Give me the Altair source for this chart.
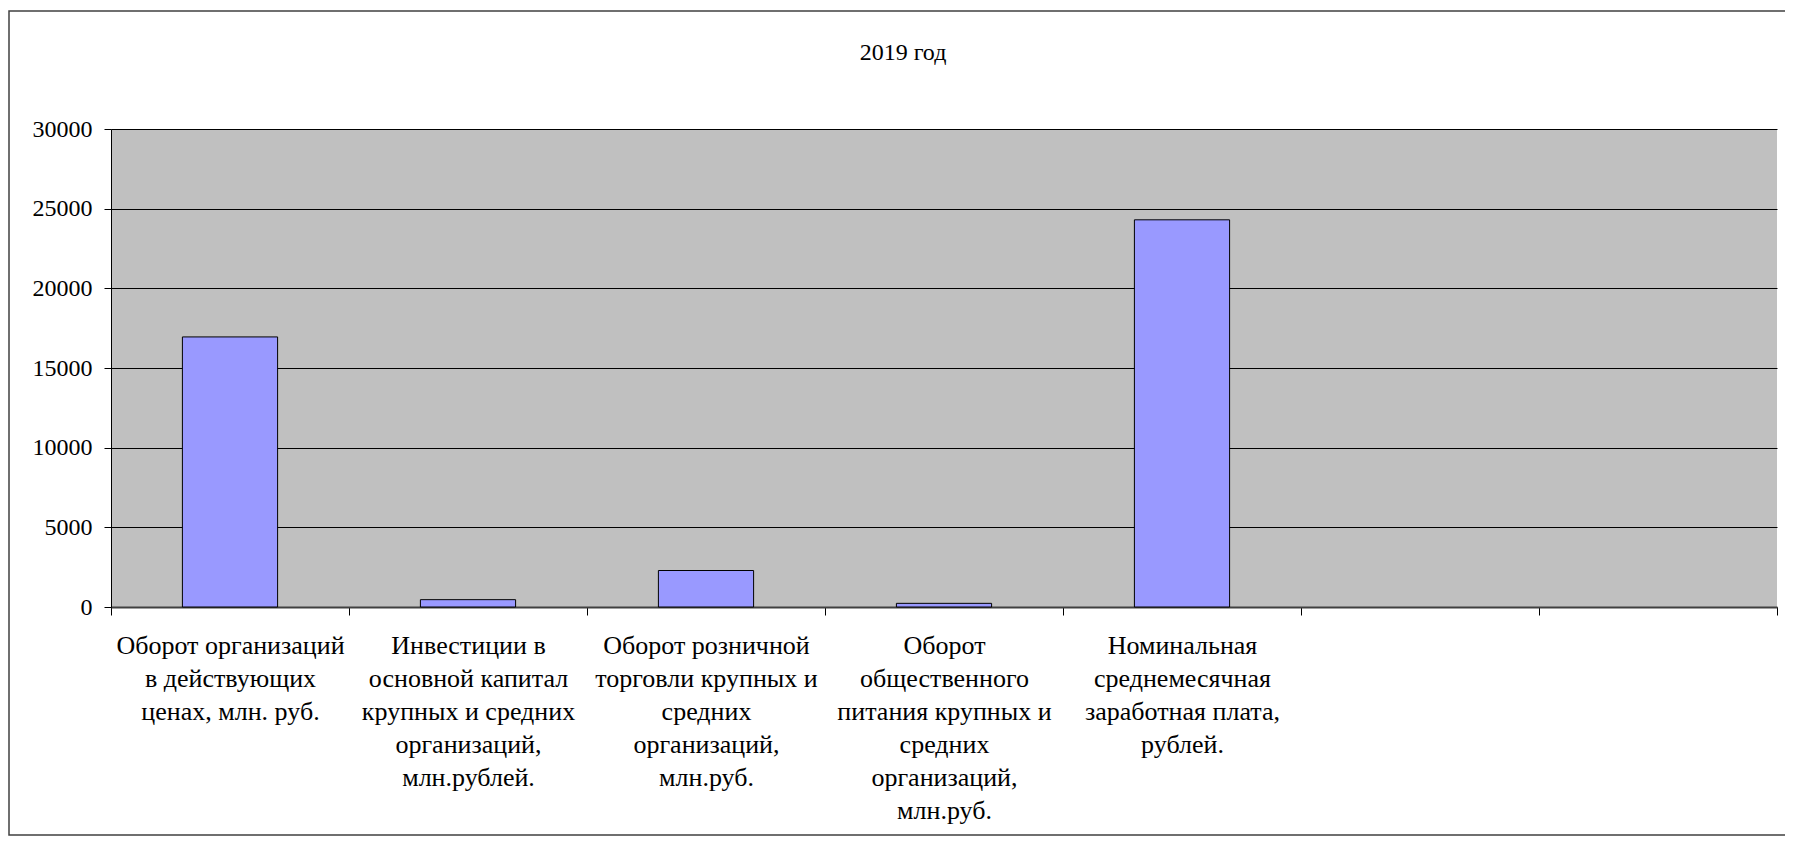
import altair as alt
import pandas as pd

# Category labels (line breaks marked with "|"); last two categories are empty in the original
categories = [
    "Оборот организаций|в действующих|ценах, млн. руб.",
    "Инвестиции в|основной капитал|крупных и средних|организаций,|млн.рублей.",
    "Оборот розничной|торговли крупных и|средних|организаций,|млн.руб.",
    "Оборот|общественного|питания крупных и|средних|организаций,|млн.руб.",
    "Номинальная|среднемесячная|заработная плата,|рублей.",
    " ",
    "  ",
]
values = [16950, 460, 2290, 230, 24300, None, None]
y_ticks = [0, 5000, 10000, 15000, 20000, 25000, 30000]

df = pd.DataFrame({"cat": categories, "value": values})

FONT = "Liberation Serif"
W, H = 1666, 478
PAD = {"left": 103, "top": 121, "right": 8, "bottom": 229}

bars = alt.Chart(df).mark_bar(
    color="#9999FF", stroke="#000000", strokeWidth=1,
    width=alt.RelativeBandSize(0.4),
).encode(
    x=alt.X(
        "cat:N", sort=None,
        scale=alt.Scale(domain=categories, paddingInner=0, paddingOuter=0),
        axis=alt.Axis(
            title=None, labelAngle=0, labelExpr="split(datum.label, '|')",
            labelFont=FONT, labelFontSize=26, labelLineHeight=33,
            labelColor="#000000", labelLimit=400, labelPadding=17,
            labelBaseline="top", labelAlign="center", labelOverlap=False,
            tickBand="extent", tickSize=8, tickColor="#000000",
            domainColor="#404040", domainWidth=2, grid=False,
        ),
    ),
    y=alt.Y(
        "value:Q",
        scale=alt.Scale(domain=[0, 30000], nice=False),
        axis=alt.Axis(
            title=None, values=y_ticks, format="d",
            labelFont=FONT, labelFontSize=24, labelColor="#000000",
            labelPadding=12, tickSize=7, tickColor="#000000",
            domainColor="#000000", grid=True, gridColor="#000000", gridWidth=1,
        ),
    ),
)

frame = alt.Chart(alt.Data(values=[{}])).mark_rect(
    fill="#FFFFFF", fillOpacity=0, stroke="#404040", strokeWidth=1.5,
).encode(
    x=alt.value(-102), x2=alt.value(W + 20),
    y=alt.value(-118), y2=alt.value(H + PAD["bottom"] - 1),
)

chart = alt.layer(frame, bars).properties(
    width=W, height=H, padding=PAD, autosize="none", background="white",
    title=alt.Title(
        "2019 год", font=FONT, fontSize=24, fontWeight="normal",
        color="#000000", anchor="middle", frame="group", dx=-41, offset=-55,
    ),
).configure_view(fill="#C0C0C0", stroke=None)

chart.save("out.html", embed_options={"renderer": "svg", "actions": False})
